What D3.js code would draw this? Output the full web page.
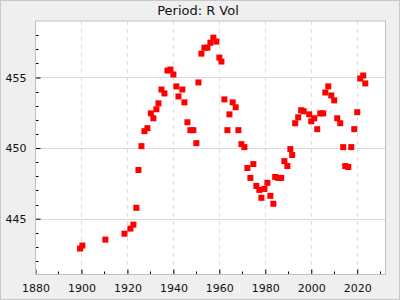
<!DOCTYPE html>
<html><head><meta charset="utf-8">
<script src="https://cdn.jsdelivr.net/npm/d3@7"></script>
<style>
html,body{margin:0;padding:0;background:#efefef;}
svg{display:block;font-family:"DejaVu Sans",sans-serif;}
</style></head>
<body>
<svg id="c" width="400" height="300"></svg>
<script>
const title = "Period: R Vol";
const years = [1899.4,1900.4,1910.4,1918.7,1921.3,1922.6,1923.9,1924.8,1926.1,1927.4,1928.7,
1930.2,1931.3,1932.6,1933.5,1934.8,1936.1,1937.4,1938.7,1940.0,1941.3,1942.2,1943.9,1944.8,1946.1,1947.4,1948.7,1950.0,1950.9,1952.2,1953.5,1954.8,1956.1,1957.4,1958.7,1960.0,1960.9,1962.2,1963.5,1964.4,
1965.8,1967.1,1968.3,1969.6,1970.9,1972.2,1973.5,1974.8,1976.1,1977.4,1978.3,1979.6,1980.9,1982.2,1983.5,1984.3,1985.6,1986.9,1988.3,1989.6,1990.9,1991.7,1993.0,1994.3,1995.6,1996.7,
1999.1,2000.0,2001.3,2002.6,2003.9,2005.2,2006.1,2007.4,2008.7,2010.0,2011.3,2012.6,2013.9,2014.8,2016.1,2017.4,2018.7,2020.0,2021.3,2022.6,2023.5];
const values = [442.89,443.10,443.52,443.94,444.30,444.58,445.77,448.45,450.14,451.20,451.41,
452.46,452.11,452.75,453.17,454.15,453.87,455.49,455.56,455.21,454.37,453.66,454.15,453.24,451.83,451.27,451.27,450.35,454.65,456.69,457.11,457.11,457.46,457.82,457.54,456.41,456.13,453.45,451.27,452.39,
453.24,452.89,451.27,450.28,450.07,448.59,447.89,448.87,447.32,447.04,446.48,447.11,447.54,446.62,446.06,447.96,447.89,447.89,449.08,448.73,449.93,449.51,451.76,452.18,452.68,452.61,
452.39,451.90,452.11,451.34,452.46,452.46,453.94,454.37,453.73,453.38,452.11,451.76,450.07,448.73,448.66,450.07,451.34,452.54,454.93,455.14,454.58];
const xTicks = [1880,1900,1920,1940,1960,1980,2000,2020];
const yTicks = [445,450,455];

const svg = d3.select("#c");
const W=400,H=300;
const m={l:35.5,r:385.5,t:21,b:274.5};
svg.append("rect").attr("x",0.5).attr("y",0.5).attr("width",W-1).attr("height",H-1)
  .attr("fill","#efefef").attr("stroke","#c8c8c8");
svg.append("rect").attr("x",m.l).attr("y",m.t).attr("width",m.r-m.l).attr("height",m.b-m.t).attr("fill","#fff");

const x = d3.scaleLinear().domain([1880,2032.3]).range([m.l,m.r]);
const y = d3.scaleLinear().domain([441.05,459]).range([m.b,m.t]);

// grid
svg.append("g").selectAll("line").data(yTicks).join("line")
  .attr("x1",m.l).attr("x2",m.r).attr("y1",d=>Math.round(y(d))+0.5).attr("y2",d=>Math.round(y(d))+0.5)
  .attr("stroke","#dcdcdc").attr("stroke-width",1);
svg.append("g").selectAll("line").data(xTicks.slice(1)).join("line")
  .attr("y1",m.t).attr("y2",m.b).attr("x1",d=>Math.round(x(d))+0.5).attr("x2",d=>Math.round(x(d))+0.5)
  .attr("stroke","#dcdcdc").attr("stroke-width",1).attr("stroke-dasharray","4,4");

// axes
const xAx = d3.axisBottom(x).tickValues(xTicks).tickFormat(d3.format("d")).tickSizeInner(-5).tickSizeOuter(0).tickPadding(10);
const gx = svg.append("g").attr("transform",`translate(0,${m.b})`).call(xAx);
const xMinor = d3.range(1890,2031,20);
svg.append("g").selectAll("line").data(xMinor).join("line")
  .attr("x1",d=>Math.round(x(d))+0.5).attr("x2",d=>Math.round(x(d))+0.5).attr("y1",m.b).attr("y2",m.b-3).attr("stroke","#000");
const yAx = d3.axisLeft(y).tickValues(yTicks).tickSizeInner(-5).tickSizeOuter(0).tickPadding(9);
const gy = svg.append("g").attr("transform",`translate(${m.l},0)`).call(yAx);
const yMinor = d3.range(442,459,1).filter(v=>!yTicks.includes(v));
svg.append("g").selectAll("line").data(yMinor).join("line")
  .attr("y1",d=>Math.round(y(d))+0.5).attr("y2",d=>Math.round(y(d))+0.5).attr("x1",m.l).attr("x2",m.l+3).attr("stroke","#000");
[gx,gy].forEach(g=>{
  g.select(".domain").remove();
  g.selectAll("text").attr("font-size",11).attr("font-family","DejaVu Sans").attr("fill","#111");
  g.selectAll(".tick line").attr("stroke","#000");
});

// border
svg.append("rect").attr("x",m.l).attr("y",m.t).attr("width",m.r-m.l).attr("height",m.b-m.t)
  .attr("fill","none").attr("stroke","#c0c0c0").attr("stroke-width",1);

// points
svg.append("g").selectAll("rect").data(years.map((d,i)=>[d,values[i]])).join("rect")
  .attr("x",d=>x(d[0])-3).attr("y",d=>y(d[1])-3).attr("width",6).attr("height",6).attr("fill","#ff0000");

svg.append("text").attr("x",198).attr("y",15).attr("text-anchor","middle")
  .attr("font-size",13).attr("fill","#111").text(title);
</script>
</body></html>
